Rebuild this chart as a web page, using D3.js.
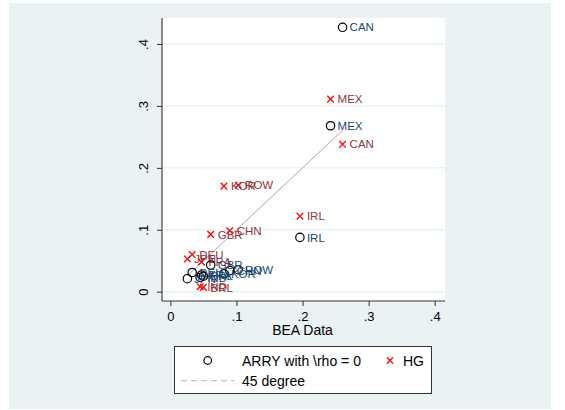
<!DOCTYPE html>
<html>
<head>
<meta charset="utf-8">
<script src="https://cdn.jsdelivr.net/npm/d3@7"></script>
<style>
  body { margin: 0; background: #fff; }
  svg { display: block; font-family: "Liberation Sans", Arial, sans-serif; }
</style>
</head>
<body>
<svg class="chart" width="565" height="410"></svg>
<script>
// countries, BEA data (x), ARRY with rho = 0 and HG (y)
const countries = ["CAN", "MEX", "IRL", "KOR", "ROW", "CHN", "GBR", "JPN", "DEU", "FRA", "IND", "BRL"];
const bea  = [0.2606, 0.2424, 0.196, 0.081, 0.1025, 0.0898, 0.061, 0.0257, 0.033, 0.047, 0.045, 0.050];
const arry = [0.427, 0.268, 0.0877, 0.029, 0.0355, 0.034, 0.043, 0.0210, 0.031, 0.027, 0.023, 0.025];
const hg   = [0.238, 0.311, 0.122, 0.1705, 0.172, 0.0984, 0.0926, 0.053, 0.060, 0.048, 0.008, 0.007];
const xTicks = [0, 0.1, 0.2, 0.3, 0.4];
const yTicks = [0, 0.1, 0.2, 0.3, 0.4];
const tickLabels = ["0", ".1", ".2", ".3", ".4"];

const svg = d3.select(".chart");

// outer graph region
svg.append("rect")
  .attr("x", 9).attr("y", 3)
  .attr("width", 542).attr("height", 406)
  .attr("fill", "#eaf2f3");

const pLeft = 162, pRight = 445, pTop = 18, pBottom = 301;

const x = d3.scaleLinear().domain([-0.0127, 0.4156]).range([pLeft, pRight]);
const y = d3.scaleLinear().domain([-0.015, 0.442]).range([pBottom, pTop]);

svg.append("rect")
  .attr("x", pLeft).attr("y", pTop)
  .attr("width", pRight - pLeft).attr("height", pBottom - pTop)
  .attr("fill", "#fff");

// grid lines
svg.append("g")
  .selectAll("line")
  .data(yTicks)
  .enter()
  .append("line")
  .attr("x1", pLeft).attr("x2", pRight)
  .attr("y1", (d) => y(d)).attr("y2", (d) => y(d))
  .attr("stroke", "#eaf2f3")
  .attr("stroke-width", 1.5);

// axes
const xAxis = svg.append("g")
  .attr("transform", `translate(0,${pBottom})`)
  .call(d3.axisBottom(x).tickValues(xTicks).tickSize(5).tickSizeOuter(0)
    .tickFormat((d, i) => tickLabels[i]));
const yAxis = svg.append("g")
  .attr("transform", `translate(${pLeft},0)`)
  .call(d3.axisLeft(y).tickValues(yTicks).tickSize(5).tickSizeOuter(0)
    .tickFormat((d, i) => tickLabels[i]));

[xAxis, yAxis].forEach((g) => {
  g.select(".domain").attr("stroke", "#333").attr("stroke-width", 1.1);
  g.selectAll(".tick line").attr("stroke", "#333");
  g.selectAll("text").attr("font-size", 13).attr("fill", "#000")
    .attr("font-family", "Liberation Sans, Arial, sans-serif");
});
xAxis.select(".domain").attr("d", `M${pLeft},0H${pRight}`);
yAxis.select(".domain").attr("d", `M0,${pBottom}V${pTop}`);
xAxis.selectAll("text").attr("dy", "0.95em");
yAxis.selectAll("text")
  .attr("text-anchor", "middle")
  .attr("dy", 0)
  .attr("x", 0)
  .attr("transform", "translate(-14,0) rotate(-90)");

svg.append("text")
  .attr("x", x(0.2)).attr("y", 335)
  .attr("text-anchor", "middle")
  .attr("font-size", 14)
  .text("BEA Data");

// 45 degree line
const lo = d3.min(bea), hi = d3.max(bea);
svg.append("line")
  .attr("x1", x(lo)).attr("y1", y(lo))
  .attr("x2", x(hi)).attr("y2", y(hi))
  .attr("stroke", "#a8a8a8")
  .attr("stroke-width", 1);

const data = countries.map((c, i) => ({ c, bx: bea[i], a: arry[i], h: hg[i] }));

function cross(g, cx, cy, s) {
  g.append("path")
    .attr("d", `M${cx - s},${cy - s}L${cx + s},${cy + s}M${cx - s},${cy + s}L${cx + s},${cy - s}`)
    .attr("stroke", "#ff0000")
    .attr("stroke-width", 1.3)
    .attr("fill", "none");
}

// HG
const hgG = svg.append("g");
data.forEach((d) => cross(hgG, x(d.bx), y(d.h), 3.3));
hgG.selectAll("text")
  .data(data)
  .enter()
  .append("text")
  .attr("x", (d) => x(d.bx) + 7)
  .attr("y", (d) => y(d.h))
  .attr("dy", "0.36em")
  .attr("font-size", 11.5)
  .attr("fill", "#90353b")
  .text((d) => d.c);

// ARRY
const arG = svg.append("g");
arG.selectAll("circle")
  .data(data)
  .enter()
  .append("circle")
  .attr("cx", (d) => x(d.bx))
  .attr("cy", (d) => y(d.a))
  .attr("r", 4.2)
  .attr("fill", "none")
  .attr("stroke", "#000")
  .attr("stroke-width", 1.2);
arG.selectAll("text")
  .data(data)
  .enter()
  .append("text")
  .attr("x", (d) => x(d.bx) + 7)
  .attr("y", (d) => y(d.a))
  .attr("dy", "0.36em")
  .attr("font-size", 11.5)
  .attr("fill", "#1a476f")
  .text((d) => d.c);

// legend
const lg = svg.append("g");
lg.append("rect")
  .attr("x", 174.5).attr("y", 346.5)
  .attr("width", 257).attr("height", 47)
  .attr("fill", "#fff")
  .attr("stroke", "#333")
  .attr("stroke-width", 1);
lg.append("circle")
  .attr("cx", 207.7).attr("cy", 360.5).attr("r", 3.8)
  .attr("fill", "none").attr("stroke", "#000").attr("stroke-width", 1.2);
lg.append("text").attr("x", 242).attr("y", 365.5).attr("font-size", 14)
  .text("ARRY with \\rho = 0");
cross(lg, 390, 360.5, 3);
lg.append("text").attr("x", 403).attr("y", 365.5).attr("font-size", 14).text("HG");
lg.append("line")
  .attr("x1", 181).attr("x2", 234).attr("y1", 380.7).attr("y2", 380.7)
  .attr("stroke", "#c8c8c8").attr("stroke-width", 1.2)
  .attr("stroke-dasharray", "6,4");
lg.append("text").attr("x", 242).attr("y", 385.5).attr("font-size", 14).text("45 degree");
</script>
</body>
</html>
